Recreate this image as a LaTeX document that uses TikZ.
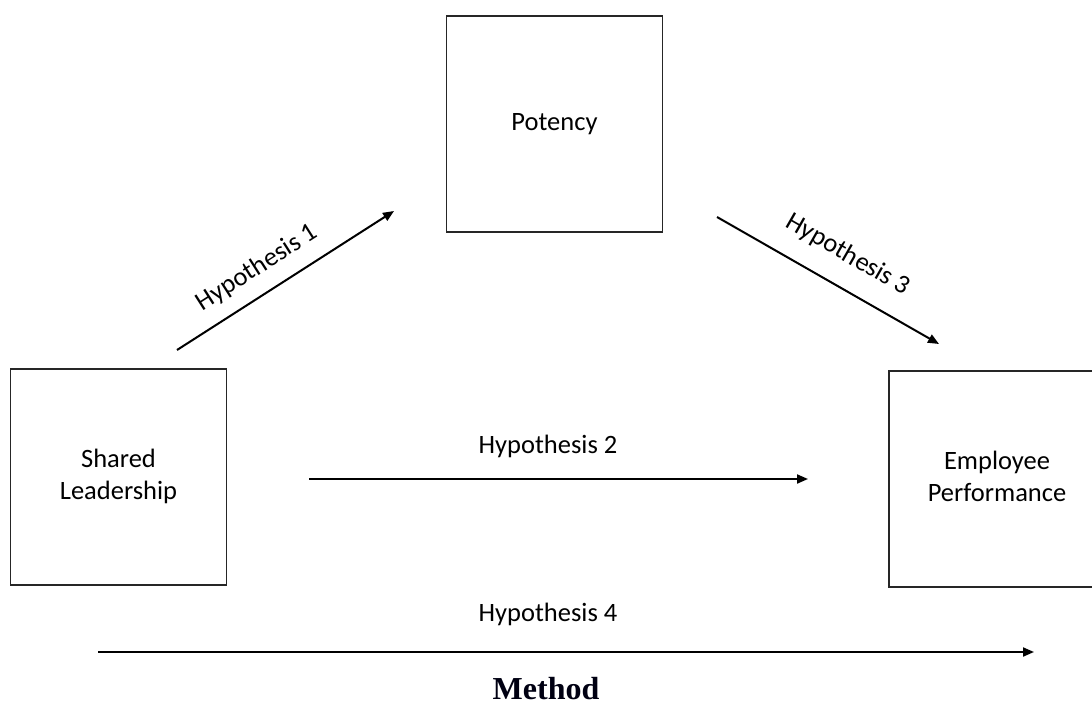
\documentclass[tikz,border=0pt]{standalone}
\usepackage{fontspec}
\setmainfont{Carlito}
\newfontfamily\methodfont{Liberation Serif}
\usetikzlibrary{arrows.meta}
\begin{document}
\begin{tikzpicture}[x=1pt,y=-1pt,
  box/.style={draw=black!85,line width=1.4pt,minimum width=216pt,minimum height=216pt,inner sep=0pt,align=center,font=\fontsize{26.5}{33}\selectfont},
  lbl/.style={font=\fontsize{26.5}{33}\selectfont,inner sep=0pt},
  arr/.style={line width=2pt,-{Stealth[length=11pt,width=9pt,inset=0pt]}}]
\useasboundingbox (0,0) rectangle (1092,725);
\clip (0,0) rectangle (1092,725);
\node[box] (pot) at (554.5,124) {\raisebox{-6pt}{Potency}};
\node[box] (sl) at (118.5,477) {\raisebox{-3pt}{\begin{tabular}{@{}c@{}}Shared\\[-0.3pt]Leadership\end{tabular}}};
\node[box] (ep) at (997,479) {\raisebox{-3pt}{\begin{tabular}{@{}c@{}}Employee\\[-0.3pt]Performance\end{tabular}}};
\coordinate (a1s) at (177,350); \coordinate (a1e) at (394,211);
\coordinate (a3s) at (717,217); \coordinate (a3e) at (939,344);
\coordinate (a2s) at (309,479); \coordinate (a2e) at (808,479);
\coordinate (a4s) at (98,652); \coordinate (a4e) at (1034,652);
\draw[arr] (a1s) -- (a1e);
\draw[arr] (a3s) -- (a3e);
\draw[arr] (a2s) -- (a2e);
\draw[arr] (a4s) -- (a4e);
\node[lbl,rotate=32.6] (h1) at (257,268) {Hypothesis 1};
\node[lbl,rotate=-29.8] (h3) at (848,255) {Hypothesis 3};
\node[lbl] (h2) at (548,446) {Hypothesis 2};
\node[lbl] (h4) at (548,614) {Hypothesis 4};
\node[inner sep=0pt,font=\methodfont\bfseries\fontsize{32}{36}\selectfont,text=black!93!blue] (m) at (546,689) {Method};
\end{tikzpicture}
\end{document}
